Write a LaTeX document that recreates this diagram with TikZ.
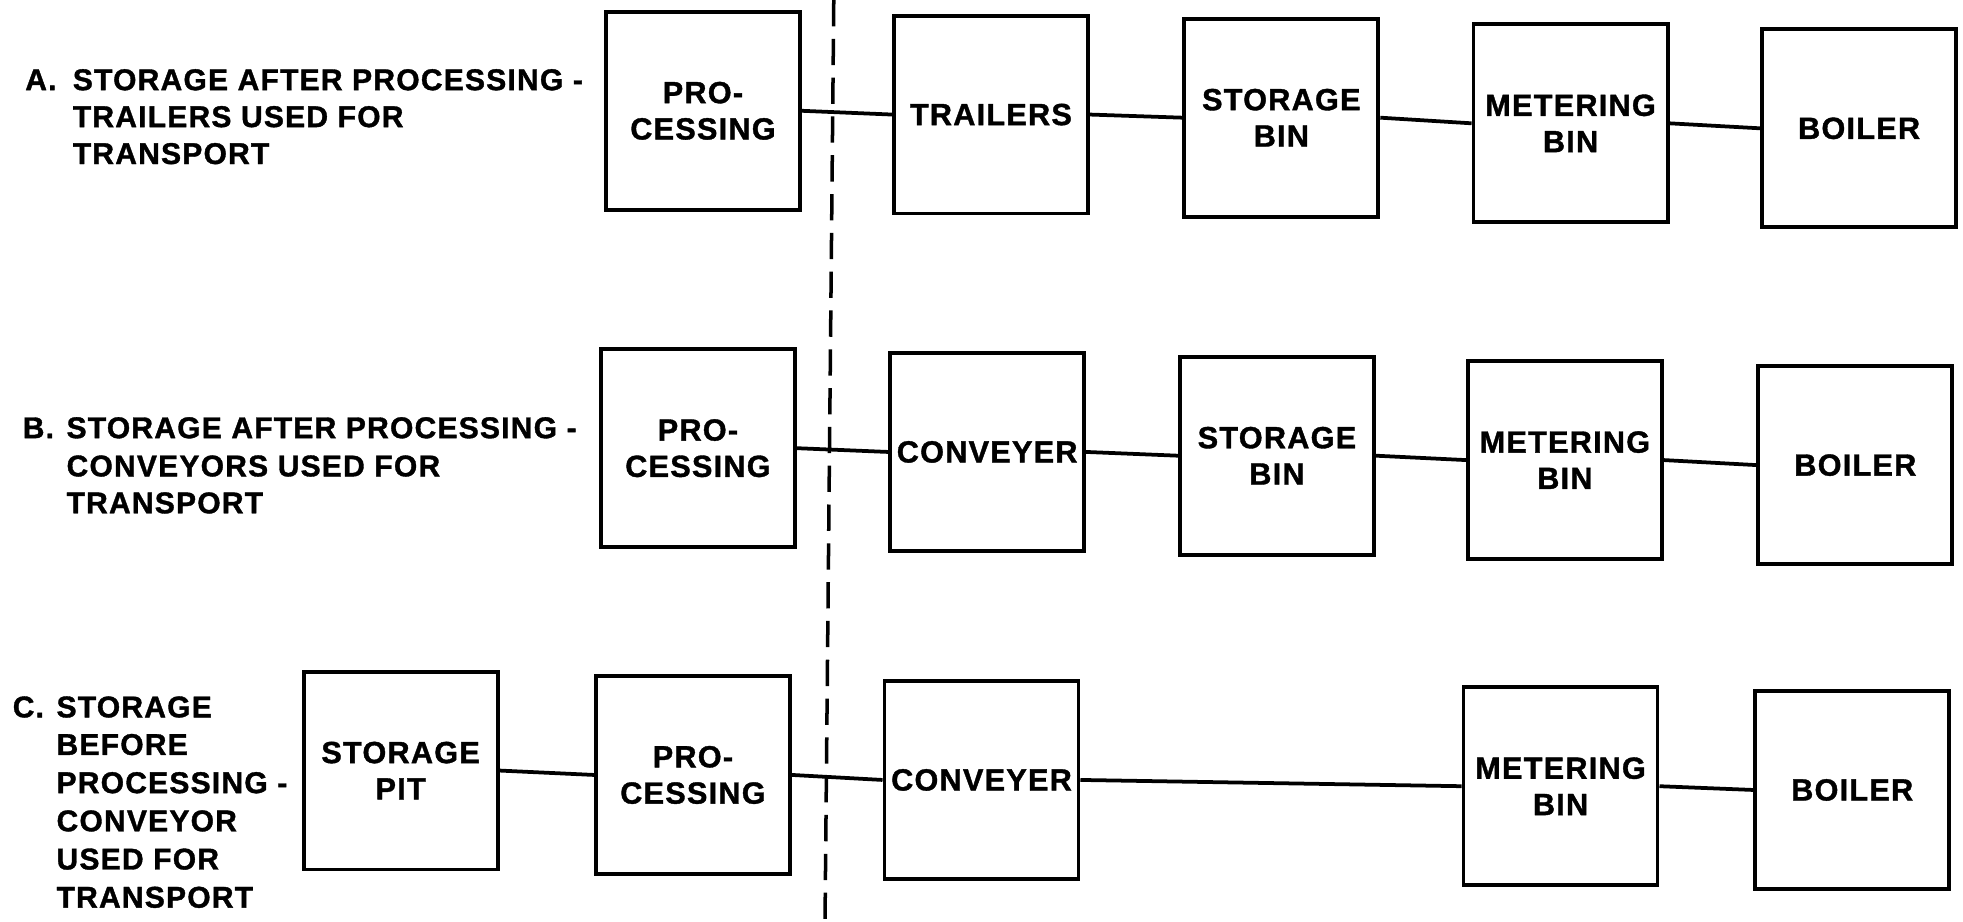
\documentclass[tikz,border=0pt]{standalone}
\usepackage{fontspec}
\setmainfont{Liberation Sans}
\newfontfamily\diagfont{Liberation Sans}[LetterSpace=4, BoldFeatures={FakeBold=1.2}]
\begin{document}
\begin{tikzpicture}[x=1pt,y=-1pt,
  box/.style={draw, line width=3.1pt, minimum width=155pt, minimum height=158pt, inner sep=0pt, align=center, font=\diagfont\bfseries\fontsize{24.5}{29}\selectfont},
  link/.style={line width=3pt},
  sep/.style={line width=2.8pt, dash pattern=on 21pt off 10pt},
  lab/.style={anchor=base west, inner sep=0pt, font=\diagfont\bfseries\fontsize{24}{29}\selectfont}]
\useasboundingbox (0,0) rectangle (1568,736);

% labels
\node[lab] (la0) at (20,72) {A.};
\node[lab] (la1) at (58,72) {STORAGE AFTER PROCESSING -};
\node[lab] (la2) at (58,101.5) {TRAILERS USED FOR};
\node[lab] (la3) at (58,131) {TRANSPORT};

\node[lab] (lb0) at (18,350) {B.};
\node[lab] (lb1) at (53,350) {STORAGE AFTER PROCESSING -};
\node[lab] (lb2) at (53,380.5) {CONVEYORS USED FOR};
\node[lab] (lb3) at (53,410) {TRANSPORT};

\node[lab] (lc0) at (10,573) {C.};
\node[lab] (lc1) at (45,573) {STORAGE};
\node[lab] (lc2) at (45,603) {BEFORE};
\node[lab] (lc3) at (45,633.5) {PROCESSING -};
\node[lab] (lc4) at (45,664) {CONVEYOR};
\node[lab] (lc5) at (45,694.5) {USED FOR};
\node[lab] (lc6) at (45,725) {TRANSPORT};

% row A
\node[box] (a1) at (561.5,88.5) {PRO-\\CESSING};
\node[box] (a2) at (791.5,91.5) {TRAILERS};
\node[box] (a3) at (1023.5,94) {STORAGE\\BIN};
\node[box] (a4) at (1254.5,98.5) {METERING\\BIN};
\node[box] (a5) at (1485,102.5) {BOILER};

% row B
\node[box] (b1) at (557.5,358) {PRO-\\CESSING};
\node[box] (b2) at (788.5,361) {CONVEYER};
\node[box] (b3) at (1020,364) {STORAGE\\BIN};
\node[box] (b4) at (1250,367.5) {METERING\\BIN};
\node[box] (b5) at (1482,371.5) {BOILER};

% row C
\node[box] (c1) at (320,615.5) {STORAGE\\PIT};
\node[box] (c2) at (553.5,619) {PRO-\\CESSING};
\node[box] (c3) at (784,623) {CONVEYER};
\node[box] (c4) at (1246.5,628) {METERING\\BIN};
\node[box] (c5) at (1479.5,631) {BOILER};

% connectors
\draw[link] (a1.east) -- (a2.west);
\draw[link] (a2.east) -- (a3.west);
\draw[link] (a3.east) -- (a4.west);
\draw[link] (a4.east) -- (a5.west);
\draw[link] (b1.east) -- (b2.west);
\draw[link] (b2.east) -- (b3.west);
\draw[link] (b3.east) -- (b4.west);
\draw[link] (b4.east) -- (b5.west);
\draw[link] (c1.east) -- (c2.west);
\draw[link] (c2.east) -- (c3.west);
\draw[link] (c3.east) -- (c4.west);
\draw[link] (c4.east) -- (c5.west);

% dashed divider
\coordinate (dtop) at (666,0);
\coordinate (dbot) at (659,736);
\draw[sep] (dtop) -- (dbot);
\end{tikzpicture}
\end{document}
